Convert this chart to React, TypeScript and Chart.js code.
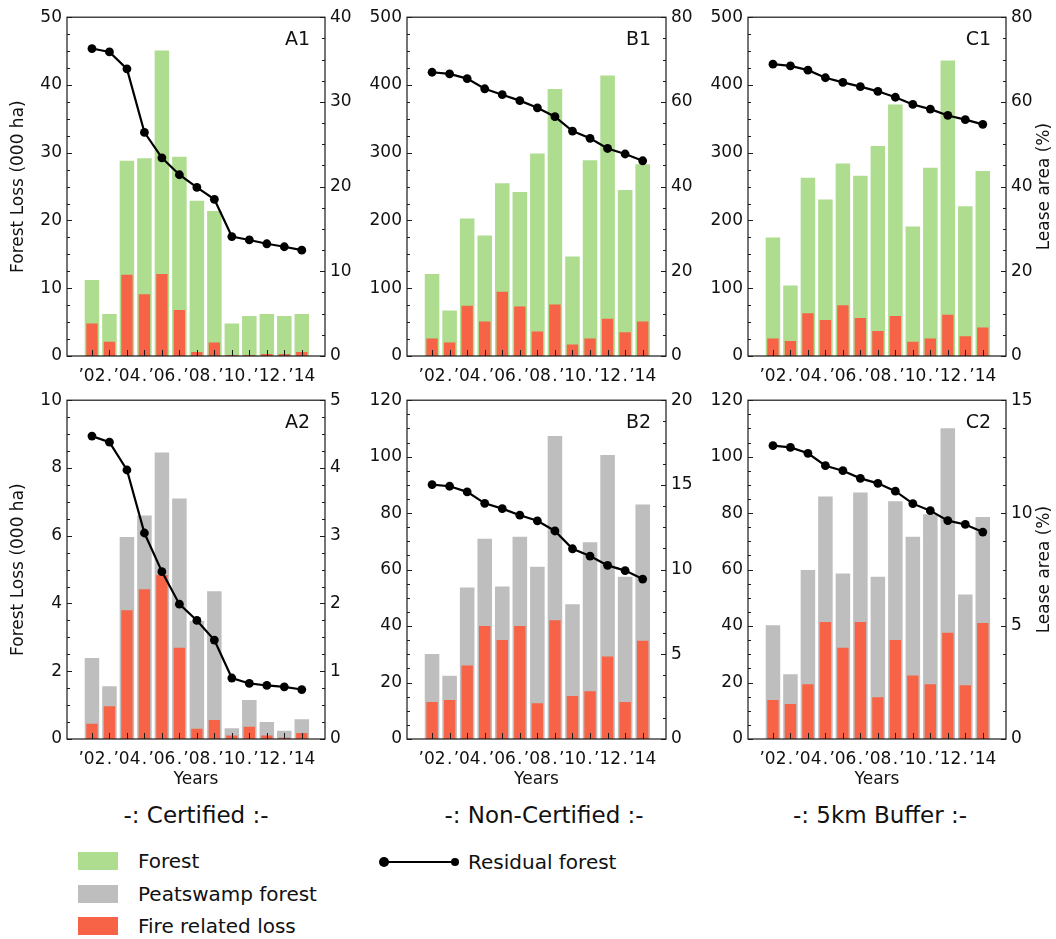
import React, { useEffect, useRef } from 'react';
import { Chart, registerables } from 'chart.js';

Chart.register(...registerables);

// ---------- data ----------
const years = [2002, 2003, 2004, 2005, 2006, 2007, 2008, 2009, 2010, 2011, 2012, 2013, 2014];
const yearTickLabels = ['’02', '.', '’04', '.', '’06', '.', '’08', '.', '’10', '.', '’12', '.', '’14'];

const a1Forest = [11.2, 6.2, 28.8, 29.2, 45.1, 29.4, 22.9, 21.4, 4.8, 5.9, 6.2, 5.9, 6.2];
const a1Fire = [4.8, 2.1, 12.0, 9.1, 12.1, 6.8, 0.6, 2.0, 0.15, 0.15, 0.3, 0.3, 0.6];
const a1Residual = [36.3, 35.9, 33.9, 26.4, 23.4, 21.4, 19.9, 18.5, 14.1, 13.7, 13.25, 12.9, 12.5];

const b1Forest = [121, 67, 203, 178, 255, 242, 299, 394, 147, 289, 414, 245, 283];
const b1Fire = [26, 20, 74, 51, 95, 73, 36, 76, 17, 26, 55, 35, 51];
const b1Residual = [67.0, 66.6, 65.5, 63.1, 61.7, 60.3, 58.6, 56.5, 53.1, 51.4, 49.0, 47.7, 46.1];

const c1Forest = [175, 104, 263, 231, 284, 266, 310, 371, 191, 278, 436, 221, 273];
const c1Fire = [26, 22, 63, 53, 75, 56, 37, 59, 21, 26, 61, 29, 42];
const c1Residual = [68.9, 68.5, 67.5, 65.7, 64.6, 63.6, 62.5, 61.1, 59.4, 58.3, 56.8, 55.8, 54.7];

const a2Peat = [2.39, 1.56, 5.96, 6.6, 8.46, 7.1, 3.48, 4.36, 0.32, 1.15, 0.5, 0.24, 0.58];
const a2Fire = [0.45, 0.97, 3.8, 4.42, 4.84, 2.69, 0.3, 0.56, 0.1, 0.36, 0.1, 0.04, 0.18];
const a2Residual = [4.47, 4.38, 3.97, 3.04, 2.47, 1.99, 1.75, 1.46, 0.9, 0.82, 0.79, 0.77, 0.73];

const b2Peat = [30.1, 22.4, 53.7, 70.9, 54.0, 71.6, 61.0, 107.3, 47.7, 69.7, 100.6, 57.5, 83.1];
const b2Fire = [13.1, 13.8, 26.0, 40.0, 35.1, 40.0, 12.7, 42.1, 15.2, 16.9, 29.2, 13.1, 34.8];
const b2Residual = [15.02, 14.92, 14.59, 13.91, 13.6, 13.21, 12.88, 12.28, 11.23, 10.8, 10.25, 9.94, 9.44];

const c2Peat = [40.3, 22.9, 59.9, 85.9, 58.6, 87.3, 57.5, 84.2, 71.6, 79.6, 110.1, 51.2, 78.6];
const c2Fire = [13.8, 12.4, 19.4, 41.4, 32.3, 41.4, 14.8, 35.1, 22.5, 19.4, 37.6, 19.0, 41.1];
const c2Residual = [12.99, 12.91, 12.65, 12.1, 11.88, 11.54, 11.32, 10.97, 10.42, 10.11, 9.67, 9.5, 9.16];

// ---------- styles ----------
const GREEN = '#aedd8f';
const GRAY = '#bebebe';
const RED = '#f66346';
const INK = '#111111';
const FONT = "'DejaVu Sans', sans-serif";

const LW = 67; // left axis width
const RW = 50; // right axis width
const TOP = 12;
const XH = 52;
const PLOT_H = 342;

type Panel = {
  id: string;
  plotLeft: number;
  plotTop: number;
  plotW: number;
  loss: number[];
  fire: number[];
  residual: number[];
  lossColor: string;
  lossMax: number;
  lossStep: number;
  lossMinor: number;
  resMax: number;
  resStep: number;
  resMinor: number;
  leftTitle: boolean;
  rightTitle: boolean;
  xTitle: boolean;
};

const panels: Panel[] = [
  { id: 'A1', plotLeft: 67, plotTop: 14, plotW: 258, loss: a1Forest, fire: a1Fire, residual: a1Residual, lossColor: GREEN, lossMax: 50, lossStep: 10, lossMinor: 2.5, resMax: 40, resStep: 10, resMinor: 2.5, leftTitle: true, rightTitle: false, xTitle: false },
  { id: 'B1', plotLeft: 407, plotTop: 14, plotW: 259, loss: b1Forest, fire: b1Fire, residual: b1Residual, lossColor: GREEN, lossMax: 500, lossStep: 100, lossMinor: 25, resMax: 80, resStep: 20, resMinor: 5, leftTitle: false, rightTitle: false, xTitle: false },
  { id: 'C1', plotLeft: 748, plotTop: 14, plotW: 258, loss: c1Forest, fire: c1Fire, residual: c1Residual, lossColor: GREEN, lossMax: 500, lossStep: 100, lossMinor: 25, resMax: 80, resStep: 20, resMinor: 5, leftTitle: false, rightTitle: true, xTitle: false },
  { id: 'A2', plotLeft: 67, plotTop: 397, plotW: 258, loss: a2Peat, fire: a2Fire, residual: a2Residual, lossColor: GRAY, lossMax: 10, lossStep: 2, lossMinor: 0.5, resMax: 5, resStep: 1, resMinor: 0.25, leftTitle: true, rightTitle: false, xTitle: true },
  { id: 'B2', plotLeft: 407, plotTop: 397, plotW: 259, loss: b2Peat, fire: b2Fire, residual: b2Residual, lossColor: GRAY, lossMax: 120, lossStep: 20, lossMinor: 5, resMax: 20, resStep: 5, resMinor: 1.25, leftTitle: false, rightTitle: false, xTitle: true },
  { id: 'C2', plotLeft: 748, plotTop: 397, plotW: 258, loss: c2Peat, fire: c2Fire, residual: c2Residual, lossColor: GRAY, lossMax: 120, lossStep: 20, lossMinor: 5, resMax: 15, resStep: 5, resMinor: 1.25, leftTitle: false, rightTitle: true, xTitle: true },
];

const framePlugin = {
  id: 'frame',
  afterDatasetsDraw(chart: any, _args: any, opts: any) {
    const { ctx, chartArea } = chart;
    const { left, right, top, bottom } = chartArea;
    ctx.save();
    ctx.strokeStyle = '#1a1a1a';
    ctx.lineWidth = 1.2;
    ctx.strokeRect(left, top, right - left, bottom - top);
    ctx.lineWidth = 1;
    const line = (x1: number, y1: number, x2: number, y2: number) => {
      ctx.beginPath();
      ctx.moveTo(x1, y1);
      ctx.lineTo(x2, y2);
      ctx.stroke();
    };
    const yS = chart.scales.y;
    for (let v = 0; v <= opts.lossMax + 1e-9; v += opts.lossMinor) {
      const py = Math.round(yS.getPixelForValue(v)) + 0.5;
      const r = v / opts.lossStep;
      const major = Math.abs(r - Math.round(r)) < 1e-6;
      line(left, py, left + (major ? 5 : 3), py);
    }
    const y2S = chart.scales.y2;
    for (let v = 0; v <= opts.resMax + 1e-9; v += opts.resMinor) {
      const py = Math.round(y2S.getPixelForValue(v)) + 0.5;
      const r = v / opts.resStep;
      const major = Math.abs(r - Math.round(r)) < 1e-6;
      line(right, py, right - (major ? 5 : 3), py);
    }
    const xS = chart.scales.x;
    years.forEach((yr) => {
      const px = Math.round(xS.getPixelForValue(yr)) + 0.5;
      line(px, bottom, px, bottom - 6);
    });
    ctx.fillStyle = INK;
    ctx.font = `19px ${FONT}`;
    ctx.textAlign = 'right';
    ctx.textBaseline = 'alphabetic';
    ctx.fillText(opts.label, right - 15, top + 28);
    if (opts.rightTitle) {
      ctx.translate(right + 39, (top + bottom) / 2);
      ctx.rotate(-Math.PI / 2);
      ctx.textAlign = 'center';
      ctx.textBaseline = 'middle';
      ctx.font = `17px ${FONT}`;
      ctx.fillText('Lease area (%)', 0, 0);
    }
    ctx.restore();
  },
};

function makeConfig(p: Panel): any {
  const pts = (arr: number[]) => years.map((x, i) => ({ x, y: arr[i] }));
  return {
    type: 'bar',
    data: {
      datasets: [
        {
          type: 'line',
          label: 'Residual forest',
          data: pts(p.residual),
          yAxisID: 'y2',
          borderColor: '#000',
          backgroundColor: '#000',
          borderWidth: 2.2,
          pointRadius: 4.4,
          pointBackgroundColor: '#000',
          pointBorderWidth: 0,
          order: 0,
        },
        {
          type: 'bar',
          label: 'Fire related loss',
          data: pts(p.fire),
          yAxisID: 'y',
          backgroundColor: RED,
          barPercentage: 0.65,
          categoryPercentage: 1,
          grouped: false,
          order: 1,
        },
        {
          type: 'bar',
          label: p.lossColor === GREEN ? 'Forest' : 'Peatswamp forest',
          data: pts(p.loss),
          yAxisID: 'y',
          backgroundColor: p.lossColor,
          barPercentage: 0.83,
          categoryPercentage: 1,
          grouped: false,
          order: 2,
        },
      ],
    },
    options: {
      animation: false,
      responsive: false,
      devicePixelRatio: 1,
      layout: { padding: { top: TOP, left: 0, right: 0, bottom: 0 } },
      plugins: {
        legend: { display: false },
        tooltip: { enabled: false },
        frame: {
          label: p.id,
          rightTitle: p.rightTitle,
          lossMax: p.lossMax,
          lossStep: p.lossStep,
          lossMinor: p.lossMinor,
          resMax: p.resMax,
          resStep: p.resStep,
          resMinor: p.resMinor,
        },
      },
      scales: {
        x: {
          type: 'linear',
          min: 2001.14,
          max: 2014.76,
          grid: { display: false, drawTicks: false },
          border: { display: false },
          afterBuildTicks: (s: any) => {
            s.ticks = years.map((v) => ({ value: v }));
          },
          afterFit: (s: any) => {
            s.height = XH;
          },
          ticks: {
            autoSkip: false,
            maxRotation: 0,
            padding: 10,
            color: INK,
            font: { size: 17, family: FONT },
            callback: (v: any) => {
              const i = years.indexOf(Math.round(Number(v)));
              return i >= 0 ? yearTickLabels[i] : '';
            },
          },
          title: {
            display: p.xTitle,
            text: 'Years',
            color: INK,
            font: { size: 17, family: FONT },
            padding: { top: 0, bottom: 1 },
          },
        },
        y: {
          position: 'left',
          min: 0,
          max: p.lossMax,
          grid: { display: false, drawTicks: false },
          border: { display: false },
          afterFit: (s: any) => {
            s.width = LW;
          },
          ticks: { stepSize: p.lossStep, padding: 5, color: INK, font: { size: 17, family: FONT } },
          title: {
            display: p.leftTitle,
            text: 'Forest Loss (000 ha)',
            color: INK,
            font: { size: 17, family: FONT },
            padding: { top: 8, bottom: 0 },
          },
        },
        y2: {
          position: 'right',
          min: 0,
          max: p.resMax,
          grid: { display: false, drawTicks: false },
          border: { display: false },
          afterFit: (s: any) => {
            s.width = RW;
          },
          ticks: { stepSize: p.resStep, padding: 5, color: INK, font: { size: 17, family: FONT } },
        },
      },
    },
    plugins: [framePlugin],
  };
}

function PanelChart({ p }: { p: Panel }) {
  const ref = useRef<HTMLCanvasElement | null>(null);
  const w = LW + p.plotW + RW;
  const h = TOP + PLOT_H + XH;
  useEffect(() => {
    if (!ref.current) return;
    const chart = new Chart(ref.current, makeConfig(p));
    return () => chart.destroy();
  }, [p]);
  return (
    <canvas
      ref={ref}
      width={w}
      height={h}
      style={{ position: 'absolute', left: p.plotLeft - LW, top: p.plotTop - TOP, width: w, height: h }}
    />
  );
}

const groupLabels = [
  { text: '-: Certified :-', cx: 196 },
  { text: '-: Non-Certified :-', cx: 544 },
  { text: '-: 5km Buffer :-', cx: 880 },
];

const legendBoxes = [
  { text: 'Forest', color: GREEN, cy: 861 },
  { text: 'Peatswamp forest', color: GRAY, cy: 894 },
  { text: 'Fire related loss', color: RED, cy: 926 },
];

export default function App() {
  return (
    <div
      style={{
        position: 'absolute',
        left: 0,
        top: 0,
        width: 1056,
        height: 939,
        background: '#ffffff',
        fontFamily: FONT,
        color: INK,
        overflow: 'hidden',
      }}
    >
      {panels.map((p) => (
        <PanelChart key={p.id} p={p} />
      ))}
      {groupLabels.map((g) => (
        <div
          key={g.text}
          style={{
            position: 'absolute',
            left: g.cx - 200,
            width: 400,
            top: 801,
            lineHeight: '28px',
            fontSize: 23,
            textAlign: 'center',
            whiteSpace: 'nowrap',
          }}
        >
          {g.text}
        </div>
      ))}
      {legendBoxes.map((b) => (
        <React.Fragment key={b.text}>
          <div style={{ position: 'absolute', left: 78, top: b.cy - 9, width: 40, height: 18, background: b.color }} />
          <div
            style={{
              position: 'absolute',
              left: 138,
              top: b.cy - 13,
              lineHeight: '26px',
              fontSize: 20,
              whiteSpace: 'nowrap',
            }}
          >
            {b.text}
          </div>
        </React.Fragment>
      ))}
      <div style={{ position: 'absolute', left: 385, top: 861, width: 70, height: 2, background: '#000' }} />
      <div style={{ position: 'absolute', left: 379, top: 857, width: 10, height: 10, borderRadius: 5, background: '#000' }} />
      <div style={{ position: 'absolute', left: 451, top: 858, width: 8, height: 8, borderRadius: 4, background: '#000' }} />
      <div
        style={{
          position: 'absolute',
          left: 468,
          top: 849,
          lineHeight: '26px',
          fontSize: 20,
          whiteSpace: 'nowrap',
        }}
      >
        Residual forest
      </div>
    </div>
  );
}
